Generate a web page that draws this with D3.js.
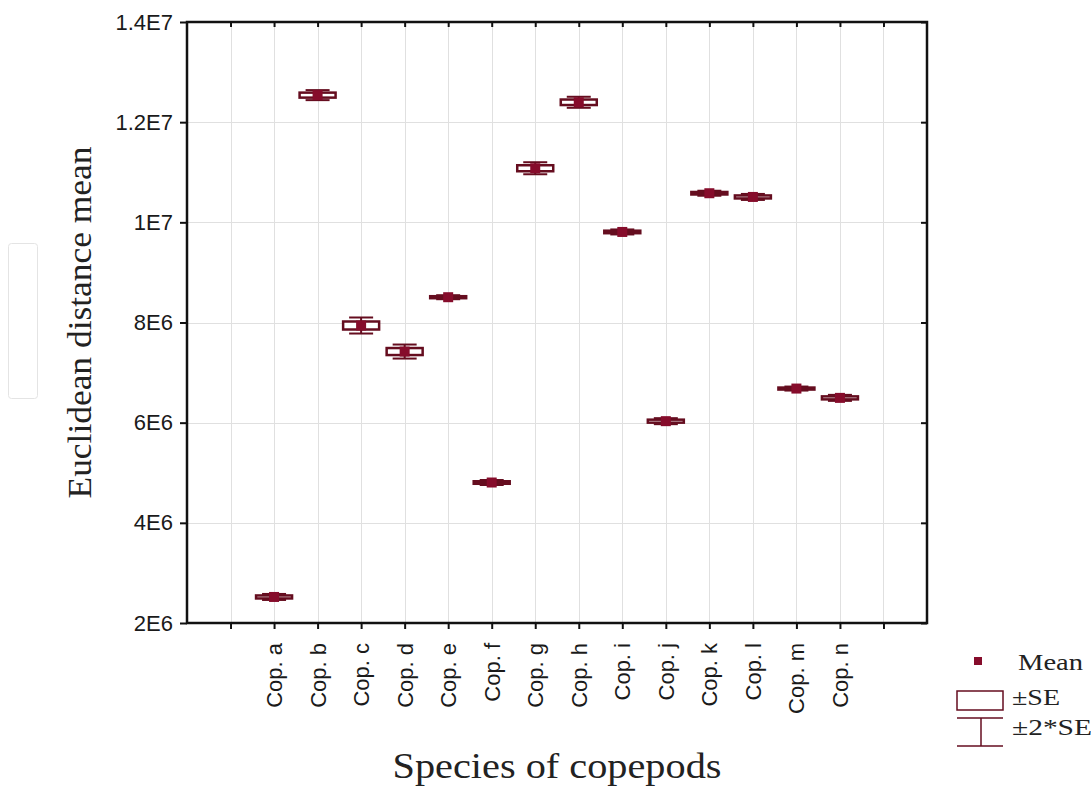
<!DOCTYPE html>
<html>
<head>
<meta charset="utf-8">
<script src="https://cdn.jsdelivr.net/npm/d3@7"></script>
<style>
  html, body { margin: 0; padding: 0; background: #fff; }
  svg { display: block; }
</style>
</head>
<body>
<svg id="chart" width="1091" height="787"></svg>
<script>
// Species and their mean Euclidean distance with standard errors
const categories = ["Cop. a", "Cop. b", "Cop. c", "Cop. d", "Cop. e", "Cop. f", "Cop. g",
                    "Cop. h", "Cop. i", "Cop. j", "Cop. k", "Cop. l", "Cop. m", "Cop. n"];
const means = [2.52e6, 1.254e7, 7.94e6, 7.42e6, 8.505e6, 4.805e6, 1.108e7,
               1.2397e7, 9.808e6, 6.03e6, 1.0581e7, 1.0507e7, 6.681e6, 6.495e6];
const stdErrors = [3e4, 5e4, 8e4, 7e4, 2e4, 2.5e4, 6e4,
                   5.5e4, 2.5e4, 3e4, 2.5e4, 3e4, 2e4, 3e4];
const yTicks = [2e6, 4e6, 6e6, 8e6, 1e7, 1.2e7, 1.4e7];
const yTickLabels = ["2E6", "4E6", "6E6", "8E6", "1E7", "1.2E7", "1.4E7"];
const legendLabels = ["Mean", "\u00B1SE", "\u00B12*SE"];

const svg = d3.select("#chart");
const plot = { left: 187, right: 927, top: 22, bottom: 623 };
const darkRed = "#650d1f";
const meanFill = "#860c2b";

// Category slots: one empty slot before the first and after the last species
const slotCount = categories.length + 3;
const x = d3.scaleLinear().domain([0, slotCount]).range([plot.left, plot.right]);
const slot = i => i + 2;
const gridSlots = d3.range(1, slotCount);
const y = d3.scaleLinear().domain([2e6, 1.4e7]).range([plot.bottom, plot.top]);

// faint frame on the left margin
svg.append("rect")
  .attr("x", 8.5).attr("y", 243.5).attr("width", 29).attr("height", 155)
  .attr("rx", 3).attr("fill", "none").attr("stroke", "#e4e4e4").attr("stroke-width", 1);

// grid
const grid = svg.append("g").attr("stroke", "#e0e0e0").attr("stroke-width", 1);
grid.selectAll("line.v").data(gridSlots).join("line").attr("class", "v")
  .attr("x1", d => Math.round(x(d)) + 0.5).attr("x2", d => Math.round(x(d)) + 0.5)
  .attr("y1", plot.top).attr("y2", plot.bottom);
grid.selectAll("line.h").data(yTicks.slice(1, -1)).join("line").attr("class", "h")
  .attr("y1", d => Math.round(y(d)) + 0.5).attr("y2", d => Math.round(y(d)) + 0.5)
  .attr("x1", plot.left).attr("x2", plot.right);

// axes
const tickFont = "'Liberation Sans', Arial, sans-serif";
const yAxis = d3.axisLeft(y).tickValues(yTicks)
  .tickFormat((d, i) => yTickLabels[i]).tickSize(7).tickPadding(7);
const gy = svg.append("g").attr("transform", `translate(${plot.left},0)`).call(yAxis);
const xAxis = d3.axisBottom(x).tickValues(gridSlots).tickFormat(() => "").tickSize(6);
const gx = svg.append("g").attr("transform", `translate(0,${plot.bottom})`).call(xAxis);
const xTop = d3.axisBottom(x).tickValues(gridSlots).tickFormat(() => "").tickSize(5);
const gxt = svg.append("g").attr("transform", `translate(0,${plot.top})`).call(xTop);
const yRight = d3.axisLeft(y).tickValues(yTicks).tickFormat(() => "").tickSize(6);
const gyr = svg.append("g").attr("transform", `translate(${plot.right},0)`).call(yRight);
[gy, gx, gxt, gyr].forEach(g => {
  g.select(".domain").remove();
  g.selectAll(".tick line").attr("stroke", "#111").attr("stroke-width", 2);
});
gy.selectAll(".tick text")
  .attr("font-family", tickFont).attr("font-size", 22).attr("fill", "#1a1a1a");

// frame
svg.append("rect")
  .attr("x", plot.left).attr("y", plot.top)
  .attr("width", plot.right - plot.left).attr("height", plot.bottom - plot.top)
  .attr("fill", "none").attr("stroke", "#111").attr("stroke-width", 2.5);

// rotated category labels
svg.append("g").selectAll("text").data(categories).join("text")
  .attr("transform", (d, i) => `translate(${x(slot(i)) + 8},${plot.bottom + 20}) rotate(-90)`)
  .attr("text-anchor", "end")
  .attr("font-family", tickFont).attr("font-size", 22).attr("fill", "#1a1a1a")
  .text(d => d);

// boxes: whisker at +-2*SE, box at +-SE, mean marker
const boxW = 36, capW = 24, markSize = 10;
const marks = svg.append("g").selectAll("g").data(categories).join("g")
  .attr("transform", (d, i) => `translate(${x(slot(i))},0)`);
marks.append("line")
  .attr("y1", (d, i) => y(means[i] - 2 * stdErrors[i]))
  .attr("y2", (d, i) => y(means[i] + 2 * stdErrors[i]))
  .attr("stroke", darkRed).attr("stroke-width", 2);
[-2, 2].forEach(k => {
  marks.append("line")
    .attr("x1", -capW / 2).attr("x2", capW / 2)
    .attr("y1", (d, i) => y(means[i] + k * stdErrors[i]))
    .attr("y2", (d, i) => y(means[i] + k * stdErrors[i]))
    .attr("stroke", darkRed).attr("stroke-width", 2);
});
marks.append("rect")
  .attr("x", -boxW / 2).attr("width", boxW)
  .attr("y", (d, i) => y(means[i] + stdErrors[i]))
  .attr("height", (d, i) => y(means[i] - stdErrors[i]) - y(means[i] + stdErrors[i]))
  .attr("fill", "#fff").attr("stroke", darkRed).attr("stroke-width", 2.5);
marks.append("rect")
  .attr("x", -markSize / 2).attr("width", markSize)
  .attr("y", (d, i) => y(means[i]) - markSize / 2).attr("height", markSize)
  .attr("fill", meanFill);

// axis titles
const serif = "'Liberation Serif', 'Times New Roman', serif";
svg.append("text")
  .attr("x", (plot.left + plot.right) / 2).attr("y", 778)
  .attr("text-anchor", "middle").attr("font-family", serif).attr("font-size", 36)
  .attr("textLength", 329).attr("lengthAdjust", "spacingAndGlyphs")
  .attr("fill", "#222").text("Species of copepods");
svg.append("text")
  .attr("transform", `translate(91,${(plot.top + plot.bottom) / 2}) rotate(-90)`)
  .attr("text-anchor", "middle").attr("font-family", serif).attr("font-size", 33)
  .attr("textLength", 352).attr("lengthAdjust", "spacingAndGlyphs")
  .attr("fill", "#222").text("Euclidean distance mean");

// legend
const lg = svg.append("g");
lg.append("rect").attr("x", 974).attr("y", 657).attr("width", 8).attr("height", 8).attr("fill", meanFill);
lg.append("rect").attr("x", 957).attr("y", 691).attr("width", 46).attr("height", 19)
  .attr("fill", "#fff").attr("stroke", darkRed).attr("stroke-width", 1.5);
lg.append("line").attr("x1", 957).attr("x2", 1003).attr("y1", 718).attr("y2", 718)
  .attr("stroke", darkRed).attr("stroke-width", 1.5);
lg.append("line").attr("x1", 957).attr("x2", 1003).attr("y1", 746).attr("y2", 746)
  .attr("stroke", darkRed).attr("stroke-width", 1.5);
lg.append("line").attr("x1", 981).attr("x2", 981).attr("y1", 718).attr("y2", 746)
  .attr("stroke", darkRed).attr("stroke-width", 1.5);
const legendY = [670, 705, 735];
const legendX = [1018, 1012, 1012];
const legendLen = [65, 48, 80];
lg.selectAll("text").data(legendLabels).join("text")
  .attr("x", (d, i) => legendX[i]).attr("y", (d, i) => legendY[i])
  .attr("font-family", serif).attr("font-size", 24)
  .attr("textLength", (d, i) => legendLen[i]).attr("lengthAdjust", "spacingAndGlyphs")
  .attr("fill", "#222").text(d => d);
</script>
</body>
</html>
